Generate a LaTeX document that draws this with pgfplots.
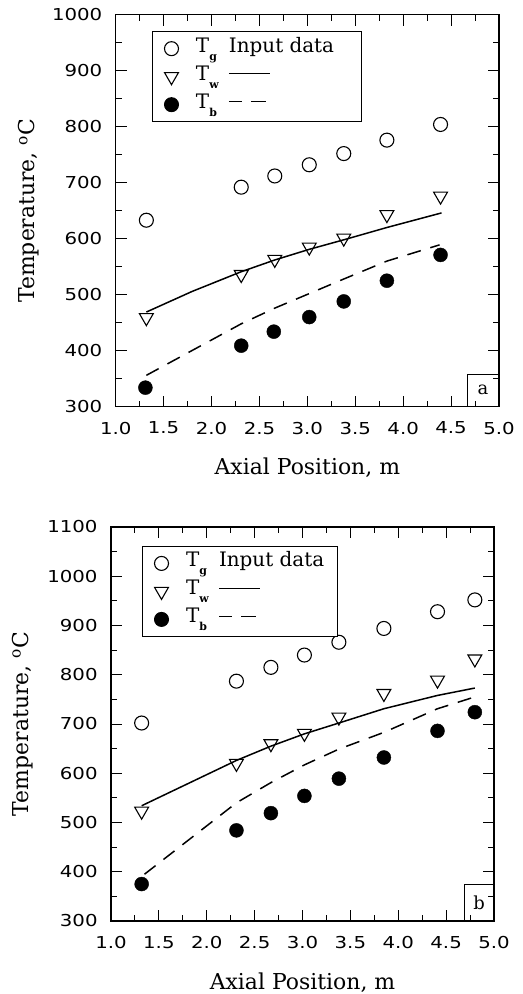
\documentclass[border=0pt]{standalone}
\usepackage{fontspec}
\setmainfont{DejaVu Serif}
\newfontfamily\tickfont{DejaVu Sans}
\usepackage{pgfplots}
\pgfplotsset{compat=1.18}
\newcommand\sub[1]{\raisebox{-8bp}{\fontsize{11}{11}\selectfont\bfseries #1}}
\newcommand\Tl[1]{\hspace{16bp}\makebox[33bp][l]{T\sub{#1}}}
\newcommand\solidsample{\rule[6bp]{41bp}{1.3bp}}
\newcommand\dashsample{\rule[6bp]{13bp}{1.3bp}\hspace{9bp}\rule[6bp]{15bp}{1.3bp}}
\pgfplotsset{
  myaxis/.style={
    scale only axis,
    anchor=south west,
    xmin=1, xmax=5,
    xtick={1,1.5,...,5},
    minor x tick num=1, minor y tick num=1,
    tick align=inside,
    major tick length=11bp, minor tick length=6bp,
    every tick/.style={black, line width=1bp},
    axis line style={line width=1.2bp},
    /pgf/number format/assume math mode=true,
    /pgf/number format/1000 sep={},
    xticklabel style={/pgf/number format/fixed, /pgf/number format/fixed zerofill, /pgf/number format/precision=1},
    tick label style={font=\tickfont\fontsize{16.5}{16.5}\selectfont, xscale=1.2},
    xticklabel style={anchor=north, inner sep=0pt, yshift=-15bp},
    yticklabel style={anchor=east, inner sep=0pt, xshift=-11bp},
    label style={font=\fontsize{22}{22}\selectfont},
    xlabel={Axial Position, m},
    ylabel={Temperature, \textsuperscript{o}C},
    xlabel style={at={(axis description cs:0.5,0)}, anchor=base, yshift=-68bp},
    legend cell align=left,
    legend image code/.code={\draw[mark repeat=2,mark phase=2,##1] plot coordinates {(0bp,0bp)(15bp,0bp)(30bp,0bp)};},
    legend style={draw=black, line width=1bp, font=\fontsize{20}{20}\selectfont,
      inner xsep=12bp, inner ysep=4bp, row sep=2bp,
      nodes={text height=15bp, text depth=8bp, inner sep=1.5bp}},
  },
  gmark/.style={only marks, mark=o, mark size=7bp, mark options={line width=1.1bp, black}},
  wmark/.style={only marks, mark=triangle, mark size=8bp, mark options={rotate=180, line width=1.1bp, black}},
  bmark/.style={only marks, mark=*, mark size=7bp, mark options={black, fill=black}},
}
\begin{document}
\begin{tikzpicture}
% top panel
\begin{axis}[myaxis,
  at={(115.7bp,587.3bp)}, width=383.3bp, height=392bp,
  ymin=300, ymax=1000, ytick={300,400,...,1000},
  ylabel style={at={(axis description cs:-0.226,0.5)}, anchor=center},
  legend style={at={(axis description cs:0.0947,0.958)}, anchor=north west},
]
\addplot[gmark] coordinates {(1.32,633) (2.31,692) (2.66,712) (3.02,732) (3.38,752) (3.83,776) (4.39,804)};
\addlegendentry{\Tl{g}Input data\rule{14bp}{0pt}}
\addplot[wmark] coordinates {(1.32,459) (2.31,536) (2.66,563) (3.02,585) (3.38,601) (3.83,643) (4.39,676)};
\addlegendentry{\Tl{w}\solidsample}
\addplot[bmark] coordinates {(1.31,334) (2.31,409) (2.65,434) (3.02,460) (3.38,488) (3.83,525) (4.39,571)};
\addlegendentry{\Tl{b}\dashsample}
\addplot[black, line width=1.5bp, forget plot] coordinates {(1.32,469) (1.8,506) (2.31,541) (2.66,562) (3.02,581) (3.38,598) (3.83,620) (4.40,646)};
\addplot[black, line width=1.5bp, dash pattern=on 14bp off 10bp, forget plot] coordinates {(1.32,356) (2.31,448) (2.66,476) (3.02,502) (3.38,528) (3.83,560) (4.38,589)};
\node[draw, line width=1bp, anchor=south east, minimum width=31bp, minimum height=32bp, inner sep=0pt, font=\fontsize{18}{18}\selectfont] at (axis description cs:1,0) {a};
\end{axis}
% bottom panel
\begin{axis}[myaxis,
  at={(111bp,73bp)}, width=383bp, height=394bp,
  ymin=300, ymax=1100, ytick={300,400,...,1100},
  ylabel style={at={(axis description cs:-0.232,0.5)}, anchor=center},
  legend style={at={(axis description cs:0.081,0.952)}, anchor=north west},
]
\addplot[gmark] coordinates {(1.32,702) (2.31,787) (2.67,815) (3.02,840) (3.38,866) (3.85,894) (4.41,928) (4.80,952)};
\addlegendentry{\Tl{g}Input data}
\addplot[wmark] coordinates {(1.32,523) (2.31,620) (2.67,660) (3.02,681) (3.38,714) (3.85,762) (4.41,789) (4.80,832)};
\addlegendentry{\Tl{w}\solidsample}
\addplot[bmark] coordinates {(1.32,375) (2.31,484) (2.67,519) (3.02,554) (3.38,589) (3.85,632) (4.41,686) (4.80,724)};
\addlegendentry{\Tl{b}\dashsample}
\addplot[black, line width=1.5bp, forget plot] coordinates {(1.32,534) (2.31,626) (2.67,655) (3.02,680) (3.38,702) (3.85,731) (4.41,758) (4.80,773)};
\addplot[black, line width=1.5bp, dash pattern=on 14bp off 10bp, forget plot] coordinates {(1.35,395) (2.31,540) (2.67,581) (3.02,617) (3.38,649) (3.85,683) (4.41,731) (4.80,755)};
\node[draw, line width=1bp, anchor=south east, minimum width=29bp, minimum height=36bp, inner sep=0pt, font=\fontsize{18}{18}\selectfont] at (axis description cs:1,0) {b};
\end{axis}
\pgfresetboundingbox
\path (0,0) rectangle (523bp,994bp);
\end{tikzpicture}
\end{document}
